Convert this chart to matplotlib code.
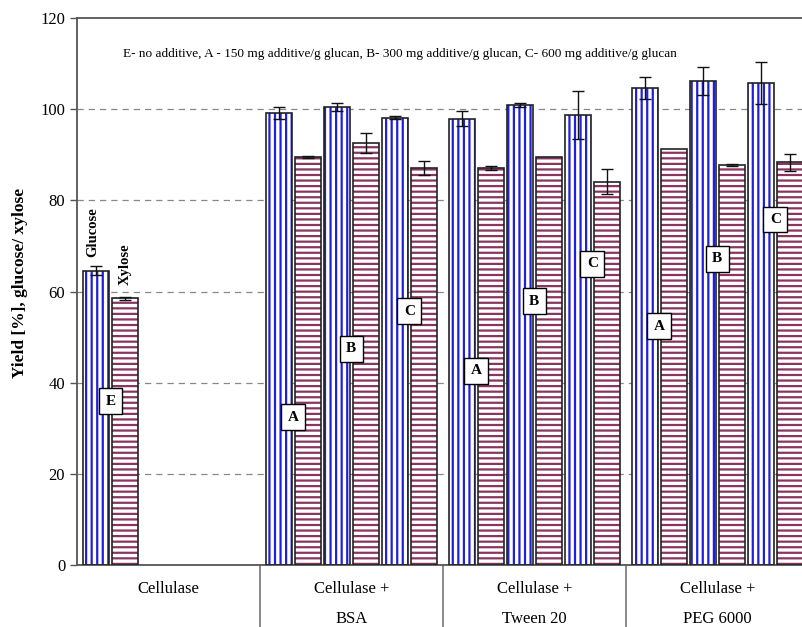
import numpy as np
import matplotlib
matplotlib.use("Agg")
import matplotlib.pyplot as plt

plt.rcParams["font.family"] = ["Liberation Serif", "DejaVu Serif"]
plt.rcParams["hatch.linewidth"] = 1.6

# yields [%] per group, order E/A, B, C
groups = ["Cellulase", "Cellulase +\nBSA", "Cellulase +\nTween 20", "Cellulase +\nPEG 6000"]
glucose = [[64.6], [99.1, 100.5, 98.1], [97.9, 100.9, 98.7], [104.7, 106.1, 105.8]]
glucose_err = [[1.0], [1.3, 0.8, 0.3], [1.6, 0.4, 5.2], [2.4, 3.1, 4.6]]
xylose = [[58.5], [89.5, 92.6, 87.1], [87.1, 89.4, 84.1], [91.3, 87.8, 88.3]]
xylose_err = [[0.3], [0.2, 2.2, 1.5], [0.4, 0.0, 2.7], [0.0, 0.2, 1.9]]
letters = [["E"], ["A", "B", "C"], ["A", "B", "C"], ["A", "B", "C"]]
letter_y = [[35.9], [32.4, 47.4, 55.7], [42.6, 57.9, 66.1], [52.4, 67.2, 75.8]]

note = ("E- no additive, A - 150 mg additive/g glucan, B- 300 mg additive/g glucan, "
        "C- 600 mg additive/g glucan")

gw = 6.31    # group width in bar slots
bw = 0.9
blue = "#2020d8"
wine = "#8a3560"

fig = plt.figure(figsize=(8.03, 6.27), dpi=100)
ax = fig.add_axes([77 / 803, 62 / 627, 726 / 803, 547 / 627])

for g in range(len(groups)):
    for k in range(len(glucose[g])):
        xg = g * gw + 0.2 + 2 * k + bw / 2
        xx = xg + 1
        ax.bar(xg, glucose[g][k], bw, color="white", edgecolor=blue, hatch="|||", lw=0, zorder=2)
        ax.bar(xg, glucose[g][k], bw, fill=False, edgecolor="#222222", lw=1.2, zorder=3)
        ax.bar(xx, xylose[g][k], bw, color="white", edgecolor=wine, hatch="---", lw=0, zorder=2)
        ax.bar(xx, xylose[g][k], bw, fill=False, edgecolor="#222222", lw=1.2, zorder=3)
        ax.errorbar(xg, glucose[g][k], yerr=glucose_err[g][k], fmt="none", ecolor="#111111",
                    elinewidth=1, capsize=4, capthick=1, zorder=4)
        if xylose_err[g][k] > 0:
            ax.errorbar(xx, xylose[g][k], yerr=xylose_err[g][k], fmt="none", ecolor="#111111",
                        elinewidth=1, capsize=4, capthick=1, zorder=4)
        ax.text(xg + 0.5, letter_y[g][k], letters[g][k], ha="center", va="center",
                fontsize=11, fontweight="bold", zorder=5,
                bbox=dict(boxstyle="square,pad=0.42", fc="white", ec="black", lw=1))

# series names above the plain cellulase bars
ax.text(0.2 + bw / 2 - 0.1, glucose[0][0] + 2.9, "Glucose", rotation=90, ha="center",
        va="bottom", fontsize=10.5, fontweight="bold")
ax.text(1.2 + bw / 2, xylose[0][0] + 2.9, "Xylose", rotation=90, ha="center",
        va="bottom", fontsize=10.5, fontweight="bold")

ax.text(1.6, 112.0, note, fontsize=9.5, va="center")

ax.set_ylim(0, 120)
ax.set_xlim(0, 726 / 29)
ax.set_yticks(range(0, 121, 20))
ax.tick_params(axis="y", labelsize=12, direction="out", length=5, width=1, color="#555555")
ax.set_xticks([])
for y in range(20, 101, 20):
    ax.axhline(y, color="#888888", lw=0.9, ls=(0, (5, 4)), zorder=1)

for s in ["left", "top", "bottom"]:
    ax.spines[s].set_color("#555555")
    ax.spines[s].set_linewidth(1.3)
ax.spines["right"].set_visible(False)

# category labels and separators under the axis
for g, name in enumerate(groups):
    lines = name.split("\n")
    cx = g * gw + gw / 2
    ax.text(cx, -5.2, lines[0], ha="center", va="center", fontsize=12, clip_on=False)
    if len(lines) > 1:
        ax.text(cx, -11.8, lines[1], ha="center", va="center", fontsize=12, clip_on=False)
    if g > 0:
        ax.plot([g * gw, g * gw], [0, -14], color="#777777", lw=1.2, clip_on=False)

ax.set_ylabel("Yield [%], glucose/ xylose", fontsize=12.5, fontweight="bold")
ax.yaxis.set_label_coords(-0.068, 0.516)

fig.savefig("out.png", dpi=100)
